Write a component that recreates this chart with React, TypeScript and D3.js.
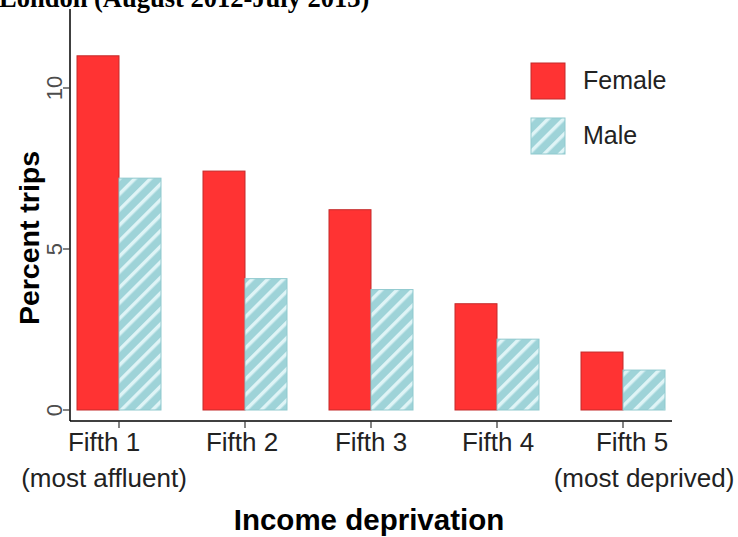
import React from "react";
import * as d3 from "d3";

const categories = ["Fifth 1", "Fifth 2", "Fifth 3", "Fifth 4", "Fifth 5"];
const subLabels = ["(most affluent)", "", "", "", "(most deprived)"];
const series = ["Female", "Male"];
const femaleValues = [11.0, 7.42, 6.22, 3.3, 1.8];
const maleValues = [7.2, 4.08, 3.74, 2.2, 1.24];
const yTicks = [0, 5, 10];
const titleText = "London (August 2012-July 2013)";
const yTitle = "Percent trips";
const xTitle = "Income deprivation";

const W = 738;
const H = 537;

export default function App() {
  const x0 = d3.scaleBand<string>().domain(categories).range([56, 686]).paddingInner(1 / 3).paddingOuter(1 / 6);
  const x1 = d3.scaleBand<string>().domain(series).range([0, x0.bandwidth()]);
  const y = d3.scaleLinear().domain([0, 10]).range([410, 88]);
  const values: Record<string, number[]> = { Female: femaleValues, Male: maleValues };
  const shift1 = [-15, -3, 0, 1, 9];
  const shift2 = [-15, 0, 0, 0, 21];
  const font = "'Liberation Sans', Arial, sans-serif";
  const axisY = 421;
  const axisX = 70;

  return (
    <div style={{ position: "absolute", left: 0, top: 0 }}>
      <svg width={W} height={H} style={{ display: "block", background: "#fff" }}>
        <defs>
          <pattern id="hatch" patternUnits="userSpaceOnUse" width="11" height="11" patternTransform="rotate(45)">
            <rect width="11" height="11" fill="#9ed3d8" />
            <rect x="0" y="0" width="3.5" height="11" fill="#dff4f6" />
          </pattern>
        </defs>
        <text x={-1} y={7} fontFamily="'Liberation Serif', 'Times New Roman', serif" fontWeight="bold" fontSize={26.5} fill="#000">
          {titleText}
        </text>
        {categories.map((c, i) =>
          series.map((s) => {
            const v = values[s][i];
            return (
              <rect
                key={c + s}
                x={(x0(c) as number) + (x1(s) as number)}
                y={y(v)}
                width={x1.bandwidth()}
                height={y(0) - y(v)}
                fill={s === "Female" ? "#ff3333" : "url(#hatch)"}
                stroke={s === "Female" ? "#c42a2a" : "#8fc9ce"}
                strokeWidth={1}
              />
            );
          })
        )}
        <line x1={axisX} x2={axisX} y1={9} y2={axisY} stroke="#000" strokeWidth={1.5} />
        <line x1={axisX} x2={672} y1={axisY} y2={axisY} stroke="#000" strokeWidth={1.5} />
        {yTicks.map((t) => (
          <g key={t}>
            <line x1={axisX - 7} x2={axisX} y1={y(t)} y2={y(t)} stroke="#333" strokeWidth={1.2} />
            <text
              transform={`translate(${axisX - 8},${y(t)}) rotate(-90)`}
              textAnchor="middle"
              fontFamily={font}
              fontSize={22}
              fill="#4d4d4d"
            >
              {t}
            </text>
          </g>
        ))}
        {categories.map((c, i) => {
          const cx = (x0(c) as number) + x0.bandwidth() / 2;
          return (
            <g key={c}>
              <line x1={cx} x2={cx} y1={axisY} y2={axisY + 7} stroke="#333" strokeWidth={1.2} />
              <text x={cx + shift1[i]} y={451} textAnchor="middle" fontFamily={font} fontSize={26} fill="#222">
                {c}
              </text>
              {subLabels[i] && (
                <text x={cx + shift2[i]} y={487} textAnchor="middle" fontFamily={font} fontSize={26} fill="#222">
                  {subLabels[i]}
                </text>
              )}
            </g>
          );
        })}
        <text x={369} y={530} textAnchor="middle" fontFamily={font} fontWeight="bold" fontSize={29.5} fill="#000">
          {xTitle}
        </text>
        <text transform={`translate(39,238) rotate(-90)`} textAnchor="middle" fontFamily={font} fontWeight="bold" fontSize={28.5} fill="#000">
          {yTitle}
        </text>
        {series.map((s, i) => (
          <g key={s} transform={`translate(531,${63 + i * 55})`}>
            <rect
              width={34}
              height={36}
              fill={s === "Female" ? "#ff3333" : "url(#hatch)"}
              stroke={s === "Female" ? "#c42a2a" : "#8fc9ce"}
            />
            <text x={52} y={26} fontFamily={font} fontSize={25} fill="#222">
              {s}
            </text>
          </g>
        ))}
      </svg>
    </div>
  );
}
